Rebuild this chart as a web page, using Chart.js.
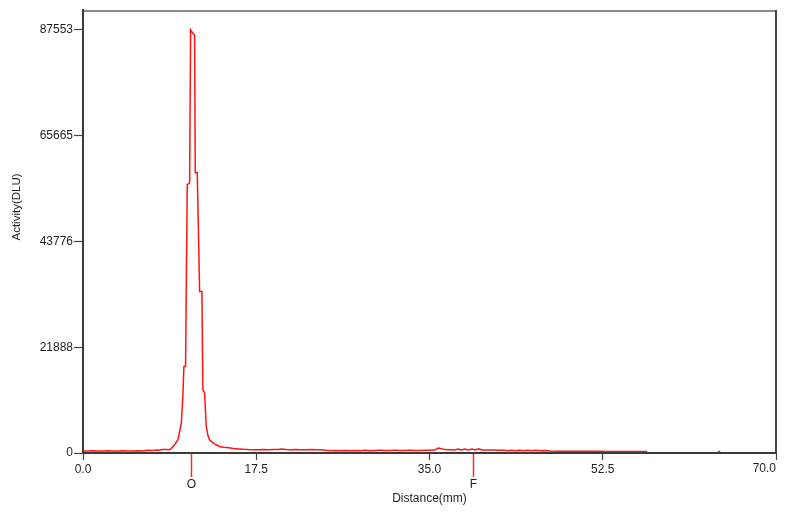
<!DOCTYPE html>
<html><head><meta charset="utf-8">
<script src="https://cdn.jsdelivr.net/npm/chart.js@4.4.0/dist/chart.umd.min.js"></script>
<style>html,body{margin:0;padding:0;background:#fff;}canvas{display:block;}</style>
</head><body>
<canvas id="c" width="787" height="519"></canvas>
<script>
const distanceMm = [
  0.0, 0.5, 1.0, 1.5, 2.0, 2.5, 3.0, 3.5, 4.0, 4.5, 5.0, 5.5, 6.0, 6.5, 7.0, 7.5, 7.74, 8.0, 8.5, 8.75,
  9.0, 9.25, 9.59, 9.93, 10.09, 10.19, 10.36, 10.53, 10.77, 10.87, 11.10, 11.27, 11.34, 11.54, 11.78, 12.01,
  12.11, 12.28, 12.45, 12.62, 12.78, 12.95, 13.12, 13.45, 13.79, 14.2, 14.73, 15.2, 15.7, 16.2, 16.7, 17.2,
  17.7, 18.2, 18.7, 19.2, 19.7, 20.1, 20.5, 21.0, 21.5, 22.0, 22.5, 23.0, 23.5, 24.0, 24.5, 25.0, 25.5, 26.0,
  26.5, 27.0, 27.5, 28.0, 28.5, 29.0, 29.5, 30.0, 30.5, 31.0, 31.5, 32.0, 32.5, 33.0, 33.5, 34.0, 34.5, 35.0,
  35.5, 35.9, 36.2, 36.6, 37.0, 37.5, 37.9, 38.2, 38.6, 38.9, 39.3, 39.6, 40.0, 40.3, 40.8, 41.2, 41.6, 42.0,
  42.5, 43.0, 43.3, 43.7, 44.1, 44.5, 44.9, 45.3, 45.7, 46.2, 46.7, 47.2, 48.0, 49.0, 50.0, 51.0, 52.0, 53.0,
  54.0, 55.0, 56.0, 56.9, 57.0, 64.1, 64.25, 64.4, 70.0
];
const activityDlu = [
  430, 420, 450, 430, 420, 440, 430, 410, 440, 430, 420, 450, 430, 560, 520, 640, 560, 700, 720, 680,
  1100, 1720, 2750, 6200, 11700, 17900, 17900, 55500, 55850, 87553, 86860, 86500, 57970, 57970, 33420, 33420,
  13090, 12470, 5500, 3600, 2750, 2400, 2130, 1700, 1360, 1200, 1100, 950, 850, 760, 700, 690,
  680, 700, 690, 700, 720, 820, 700, 690, 700, 680, 690, 700, 680, 680, 560, 470, 540, 460,
  540, 470, 540, 460, 550, 470, 540, 550, 540, 540, 550, 540, 540, 550, 540, 540, 550, 560,
  600, 1030, 900, 700, 680, 640, 830, 640, 820, 650, 830, 640, 850, 620, 610, 600, 600, 590,
  560, 470, 560, 460, 560, 470, 560, 460, 560, 480, 540, 400, 380, 370, 360, 350, 340, 330,
  320, 310, 300, 290, 0, 0, 350, 0, 0
];
const xTickValues = [0, 17.5, 35, 52.5, 70];
const yTickValues = [0, 21888, 43776, 65665, 87553];
const markerLabels = ['O', 'F'];
const markerPositions = [10.95, 39.35];
const xTitle = 'Distance(mm)';
const yTitle = 'Activity(DLU)';

const FONT = 'Liberation Sans, Arial, sans-serif';
const TEXT = '#1e1e1e';
const fmtX = v => Number(v).toFixed(1);

const framePlugin = {
  id: 'frame',
  afterDatasetsDraw(chart) {
    const {ctx, chartArea: a, scales} = chart;
    ctx.save();
    // top border
    ctx.strokeStyle = '#8a8a8a'; ctx.lineWidth = 2;
    ctx.beginPath(); ctx.moveTo(a.left, a.top); ctx.lineTo(a.right + 1, a.top); ctx.stroke();
    // right border
    ctx.strokeStyle = '#444'; ctx.lineWidth = 2;
    ctx.beginPath(); ctx.moveTo(a.right, a.top - 1); ctx.lineTo(a.right, a.bottom); ctx.stroke();
    // redraw axis lines over data
    ctx.strokeStyle = '#3a3a3a'; ctx.lineWidth = 2;
    ctx.beginPath(); ctx.moveTo(a.left, a.bottom); ctx.lineTo(a.right + 1, a.bottom); ctx.stroke();
    ctx.beginPath(); ctx.moveTo(a.left, a.top - 2); ctx.lineTo(a.left, a.bottom); ctx.stroke();
    // last x tick label (right aligned at the axis end, as in the reference)
    ctx.font = '12px ' + FONT;
    ctx.fillStyle = TEXT;
    ctx.textAlign = 'right'; ctx.textBaseline = 'middle';
    const last = xTickValues[xTickValues.length - 1];
    ctx.fillText(fmtX(last), scales.x.getPixelForValue(last), a.bottom + 16);
    // markers
    ctx.textAlign = 'center';
    markerPositions.forEach((p, i) => {
      const px = Math.round(scales.x.getPixelForValue(p)) + 0.5;
      ctx.strokeStyle = 'rgb(255,40,40)'; ctx.lineWidth = 1.5;
      ctx.beginPath(); ctx.moveTo(px, a.bottom + 1); ctx.lineTo(px, a.bottom + 24); ctx.stroke();
      ctx.fillStyle = TEXT;
      ctx.fillText(markerLabels[i], px, a.bottom + 32);
    });
    // titles
    ctx.fillStyle = TEXT;
    ctx.fillText(xTitle, (a.left + a.right) / 2, 499);
    ctx.translate(17, 207);
    ctx.rotate(-Math.PI / 2);
    ctx.font = '11.5px ' + FONT;
    ctx.fillText(yTitle, 0, 0);
    ctx.restore();
  }
};

new Chart(document.getElementById('c'), {
  type: 'scatter',
  data: {
    datasets: [{
      data: distanceMm.map((x, i) => ({x: x, y: activityDlu[i]})),
      showLine: true,
      borderColor: 'rgb(255,20,20)',
      borderWidth: 1.5,
      pointRadius: 0,
      tension: 0,
      fill: false
    }]
  },
  options: {
    responsive: false,
    animation: false,
    layout: {padding: {top: 11, right: 11, left: 0, bottom: 0}},
    plugins: {legend: {display: false}, tooltip: {enabled: false}},
    scales: {
      x: {
        type: 'linear', min: 0, max: 70,
        afterBuildTicks: s => { s.ticks = xTickValues.map(v => ({value: v})); },
        afterFit: s => { s.height = 66; s.paddingRight = 0; s.paddingLeft = 0; },
        grid: {drawOnChartArea: false, drawTicks: true, tickLength: 7, tickColor: '#444', tickWidth: 1.2},
        border: {display: true, color: '#3a3a3a', width: 2},
        ticks: {autoSkip: false, maxRotation: 0, padding: 2, color: TEXT,
          font: {family: FONT, size: 12},
          callback: v => (v === xTickValues[xTickValues.length - 1] ? '' : fmtX(v))}
      },
      y: {
        type: 'linear', min: 0, max: 91450,
        afterBuildTicks: s => { s.ticks = yTickValues.map(v => ({value: v})); },
        afterFit: s => { s.width = 83; },
        grid: {drawOnChartArea: false, drawTicks: true, tickLength: 9, tickColor: '#444', tickWidth: 1.2},
        border: {display: true, color: '#3a3a3a', width: 2},
        ticks: {autoSkip: false, padding: 1, color: TEXT,
          font: {family: FONT, size: 12},
          callback: v => String(v)}
      }
    }
  },
  plugins: [framePlugin]
});
</script>
</body></html>
